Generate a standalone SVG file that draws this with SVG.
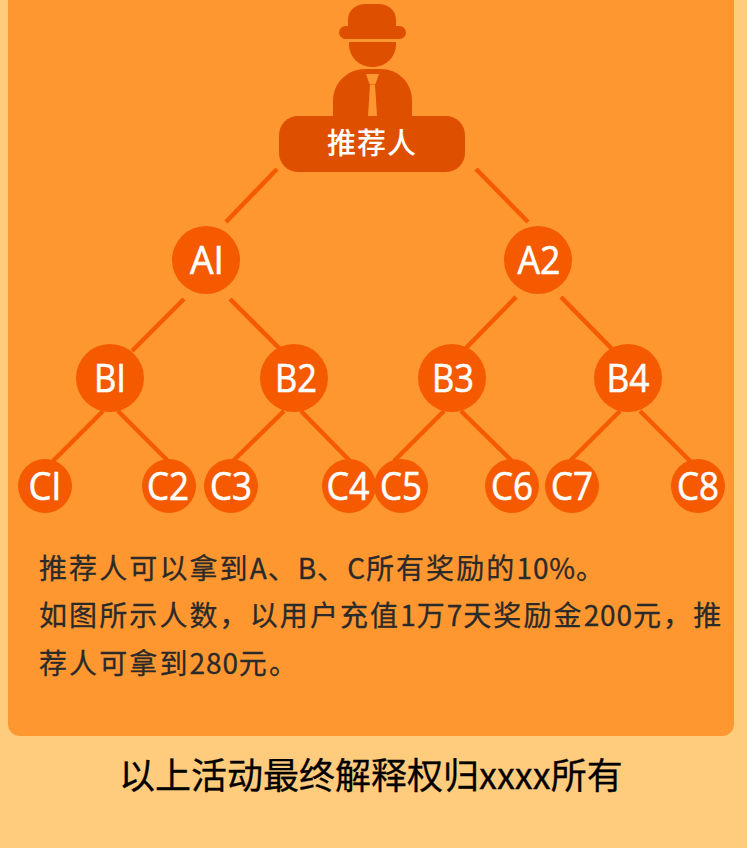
<svg xmlns="http://www.w3.org/2000/svg" width="747" height="848" viewBox="0 0 747 848">
<style>
.cjk{font-family:"Noto Sans CJK SC","Noto Sans",sans-serif}
.n circle{fill:#f55a00}
.n text{font-family:"Open Sans","Noto Sans",sans-serif;font-weight:500;font-size:38px;fill:#fff;stroke:#fff;stroke-width:.6px;text-anchor:middle}
.body{font-size:28px;font-weight:400;fill:#2a2a2a;stroke:#2a2a2a;stroke-width:.3px;letter-spacing:2.100px}
.lat{letter-spacing:.9px}
#connectors line{stroke:#f55a00;stroke-width:4.500;fill:none}
.dk{fill:#de4f00}
</style>
<rect width="747" height="848" fill="#ffcb7c"/>
<path d="M8 0H734V724a12 12 0 0 1-12 12H20a12 12 0 0 1-12-12Z" fill="#ff9730"/>
<g id="connectors">
<line x1="277" y1="169" x2="226" y2="222"/><line x1="476" y1="169" x2="528" y2="222"/>
<line x1="184" y1="299" x2="132" y2="351"/><line x1="230" y1="299" x2="282" y2="351"/>
<line x1="516" y1="297" x2="466" y2="348"/><line x1="561" y1="297" x2="613" y2="350"/>
<line x1="103" y1="411" x2="53" y2="461"/><line x1="118" y1="411" x2="168" y2="461"/>
<line x1="284" y1="411" x2="233" y2="461"/><line x1="301" y1="411" x2="350" y2="461"/>
<line x1="444" y1="411" x2="394" y2="461"/><line x1="461" y1="411" x2="512" y2="461"/>
<line x1="620" y1="411" x2="570" y2="461"/><line x1="640" y1="411" x2="692" y2="463"/>
</g>
<g id="referrer">
<path class="dk" d="M348 26V20C348 10 356 4 366 4H378C388 4 396 10 396 20V26H399.500a6.500 6.500 0 0 1 0 13H345.500a6.500 6.500 0 0 1 0-13Z"/>
<path class="dk" d="M349 42H396V44C396 57 386 67 372.500 67C359 67 349 57 349 44Z"/>
<path class="dk" d="M333 120V101C333 82 348 69 366 69H380C398 69 412 82 412 101V120Z"/>
<path d="M366 74H379L375.500 84H369.500ZM370 84.500H375L377 116H368Z" fill="#ff9730"/>
<rect class="dk" x="279" y="116" width="186" height="56" rx="19"/>
<text class="cjk" x="372" y="154" font-size="29" font-weight="500" fill="#fff" text-anchor="middle" letter-spacing="1">推荐人</text>
</g>
<g id="A1" class="n"><circle cx="206" cy="260" r="34"/><text x="207" y="274" textLength="34" lengthAdjust="spacingAndGlyphs">AI</text></g>
<g id="A2" class="n"><circle cx="538" cy="260" r="34"/><text x="539" y="274" textLength="43" lengthAdjust="spacingAndGlyphs">A2</text></g>
<g id="B1" class="n"><circle cx="110" cy="378" r="34"/><text x="110" y="392" textLength="32" lengthAdjust="spacingAndGlyphs">BI</text></g>
<g id="B2" class="n"><circle cx="294" cy="378" r="34"/><text x="296" y="392" textLength="42" lengthAdjust="spacingAndGlyphs">B2</text></g>
<g id="B3" class="n"><circle cx="452" cy="378" r="34"/><text x="453" y="392" textLength="42" lengthAdjust="spacingAndGlyphs">B3</text></g>
<g id="B4" class="n"><circle cx="628" cy="378" r="34"/><text x="628" y="392" textLength="43" lengthAdjust="spacingAndGlyphs">B4</text></g>
<g id="C1" class="n"><circle cx="45" cy="486" r="27"/><text x="45" y="500" textLength="33" lengthAdjust="spacingAndGlyphs">CI</text></g>
<g id="C2" class="n"><circle cx="169" cy="486" r="27"/><text x="168" y="500" textLength="42" lengthAdjust="spacingAndGlyphs">C2</text></g>
<g id="C3" class="n"><circle cx="231" cy="486" r="27"/><text x="231" y="500" textLength="42" lengthAdjust="spacingAndGlyphs">C3</text></g>
<g id="C4" class="n"><circle cx="349" cy="486" r="27"/><text x="348" y="500" textLength="43" lengthAdjust="spacingAndGlyphs">C4</text></g>
<g id="C5" class="n"><circle cx="401" cy="486" r="27"/><text x="401" y="500" textLength="42" lengthAdjust="spacingAndGlyphs">C5</text></g>
<g id="C6" class="n"><circle cx="512" cy="486" r="27"/><text x="512" y="500" textLength="42" lengthAdjust="spacingAndGlyphs">C6</text></g>
<g id="C7" class="n"><circle cx="572" cy="486" r="27"/><text x="572" y="500" textLength="42" lengthAdjust="spacingAndGlyphs">C7</text></g>
<g id="C8" class="n"><circle cx="698" cy="486" r="27"/><text x="698" y="500" textLength="42" lengthAdjust="spacingAndGlyphs">C8</text></g>
<text class="cjk body" x="39" y="579">推荐人可以拿到<tspan class="lat">A</tspan>、<tspan class="lat">B</tspan>、<tspan class="lat">C</tspan>所有奖励的<tspan class="lat">10%</tspan>。</text>
<text class="cjk body" x="39" y="626">如图所示人数，以用户充值<tspan class="lat">1</tspan>万<tspan class="lat">7</tspan>天奖励金<tspan class="lat">200</tspan>元，推</text>
<text class="cjk body" x="39" y="674">荐人可拿到<tspan class="lat">280</tspan>元。</text>
<text class="cjk" x="119" y="789" font-size="36" stroke="#000" stroke-width=".3" fill="#000">以上活动最终解释权归xxxx所有</text>
</svg>
